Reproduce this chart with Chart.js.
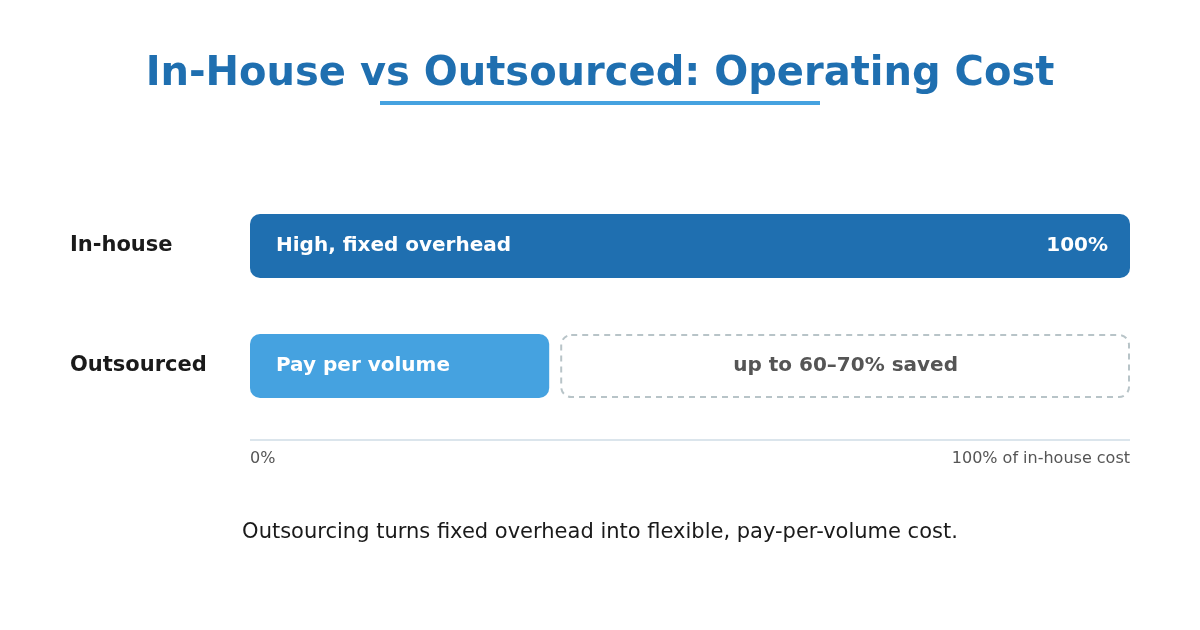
<!DOCTYPE html>
<html><head><meta charset="utf-8">
<script src="https://cdn.jsdelivr.net/npm/chart.js@4"></script>
<style>
html,body{margin:0;padding:0;background:#fff;width:1200px;height:630px;overflow:hidden;font-family:"DejaVu Sans",sans-serif}
#wrap{position:relative;width:1200px;height:630px}
canvas{position:absolute;left:0;top:0}
#title{position:absolute;left:0;width:1200px;top:48px;text-align:center;font-weight:bold;font-size:40px;color:#1f6fb0}
#ul{position:absolute;left:380px;width:440px;top:101px;height:4px;background:#45a2e0}
#foot{position:absolute;left:0;width:1200px;top:519px;text-align:center;font-size:21px;color:#1a1a1a}
</style></head><body>
<div id="wrap">
<canvas id="c" width="1200" height="630"></canvas>
<div id="title">In-House vs Outsourced: Operating Cost</div>
<div id="ul"></div>
<div id="foot">Outsourcing turns fixed overhead into flexible, pay-per-volume cost.</div>
</div>
<script>
const categories = ["In-house", "Outsourced"];
const costValues = [100, 34];
const barTexts = ["High, fixed overhead", "Pay per volume"];
const valueTexts = ["100%", ""];
const savedText = "up to 60–70% saved";
const axisLabels = ["0%", "100% of in-house cost"];
const barColors = ["#1f6fb0", "#45a2e0"];

const overlay = {
  id: "overlay",
  afterDatasetsDraw(chart) {
    const ctx = chart.ctx, x = chart.scales.x;
    const meta = chart.getDatasetMeta(0);
    ctx.save();
    meta.data.forEach((bar, i) => {
      const h = bar.height, top = bar.y - h / 2;
      ctx.font = "bold 20px 'DejaVu Sans'";
      ctx.textBaseline = "middle";
      ctx.fillStyle = "#fff";
      ctx.textAlign = "left";
      ctx.fillText(barTexts[i], x.getPixelForValue(0) + 26, bar.y);
      if (valueTexts[i]) { ctx.textAlign = "right"; ctx.fillText(valueTexts[i], bar.x - 22, bar.y); }
      ctx.fillStyle = "#1a1a1a"; ctx.textAlign = "left";
      ctx.font = "bold 21px 'DejaVu Sans'";
      ctx.fillText(categories[i], 70, bar.y);
      if (costValues[i] < 100) {
        const l = bar.x + 12, r = x.getPixelForValue(100);
        ctx.setLineDash([6, 5]); ctx.strokeStyle = "#b8c4c8"; ctx.lineWidth = 2;
        ctx.beginPath(); ctx.roundRect(l, top + 1, r - l - 1, h - 2, 10); ctx.stroke();
        ctx.setLineDash([]);
        ctx.fillStyle = "#555"; ctx.textAlign = "center"; ctx.font = "bold 20px 'DejaVu Sans'";
        ctx.fillText(savedText, (l + r) / 2, bar.y);
      }
    });
    const y0 = 440, l = x.getPixelForValue(0), r = x.getPixelForValue(100);
    ctx.strokeStyle = "#cfdde6"; ctx.lineWidth = 1.5;
    ctx.beginPath(); ctx.moveTo(l, y0); ctx.lineTo(r, y0); ctx.stroke();
    ctx.font = "16px 'DejaVu Sans'"; ctx.fillStyle = "#555"; ctx.textBaseline = "middle";
    ctx.textAlign = "left"; ctx.fillText(axisLabels[0], l, 459);
    ctx.textAlign = "right"; ctx.fillText(axisLabels[1], r, 459);
    ctx.restore();
  }
};

new Chart(document.getElementById("c"), {
  type: "bar",
  data: { labels: categories, datasets: [{ data: costValues, backgroundColor: barColors, borderRadius: 10, borderSkipped: false, categoryPercentage: 1, barPercentage: 64 / 120 }] },
  options: {
    indexAxis: "y", responsive: false, animation: false,
    layout: { padding: { left: 250, right: 70, top: 186, bottom: 204 } },
    plugins: { legend: { display: false }, tooltip: { enabled: false } },
    scales: { x: { display: false, min: 0, max: 100 }, y: { display: false } }
  },
  plugins: [overlay]
});
</script>
</body></html>
